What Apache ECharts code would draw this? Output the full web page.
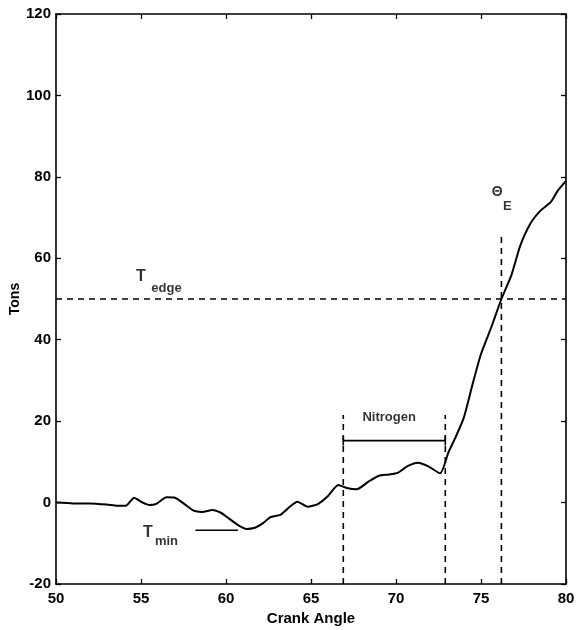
<!DOCTYPE html>
<html>
<head>
<meta charset="utf-8">
<script src="https://cdn.jsdelivr.net/npm/echarts@6/dist/echarts.min.js"></script>
<style>
  html, body { margin: 0; padding: 0; background: #fff; }
  #chart { width: 578px; height: 630px; }
</style>
</head>
<body>
<div id="chart"></div>
<script>
// Measured load on the tool versus crank angle
const crankAngle = [
  50, 51, 52, 53, 53.6, 54.1, 54.6, 55.0, 55.5, 55.9, 56.5, 57.0, 57.5, 58.1,
  58.6, 59.2, 59.7, 60.2, 60.7, 61.2, 61.7, 62.2, 62.6, 63.2, 63.7, 64.2, 64.8,
  65.4, 66.0, 66.6, 67.1, 67.7, 68.4, 69.0, 69.6, 70.1, 70.7, 71.3, 71.9, 72.6,
  73.1, 73.5, 74.0, 74.5, 75.0, 75.6, 76.2, 76.8, 77.3, 77.9, 78.5, 79.1, 79.5, 80.0
];
const tons = [
  0, -0.2, -0.2, -0.5, -0.8, -0.8, 1.2, 0.2, -0.6, -0.3, 1.3, 1.2, -0.2, -2.0,
  -2.3, -1.8, -2.5, -4.0, -5.5, -6.5, -6.2, -5.0, -3.6, -3.0, -1.2, 0.2, -1.0,
  -0.4, 1.6, 4.3, 3.6, 3.3, 5.2, 6.6, 6.9, 7.3, 9.0, 9.8, 8.9, 7.2,
  12.5, 16, 21, 29, 36.5, 43, 50, 56, 63, 68.5, 71.7, 73.8, 76.5, 79
];

// Reference levels and event angles
const tEdge = 50;
const tMin = -6.8;
const tMinSpan = [58.2, 60.7];
const nitrogenStart = 66.9;
const nitrogenEnd = 72.9;
const nitrogenTop = 21.5;
const nitrogenBar = 15.2;
const thetaE = 76.2;
const thetaETop = 66;

// Axis ranges and ticks
const xRange = [50, 80];
const xStep = 5;
const yRange = [-20, 120];
const yStep = 20;

const FONT = '"Liberation Sans Narrow", "Liberation Sans", Arial, sans-serif';
const black = '#000';

function pairs(xs, ys) { return xs.map((x, i) => [x, ys[i]]); }

function refLine(points, dashed, width) {
  return {
    type: 'line',
    data: points,
    symbol: 'none',
    silent: true,
    z: 3,
    lineStyle: { color: black, width: width || 1.6, type: dashed ? [6, 5] : 'solid' }
  };
}

function textMark(x, y, text, size) {
  return {
    type: 'scatter',
    data: [[x, y]],
    symbolSize: 1,
    itemStyle: { color: 'rgba(0,0,0,0)' },
    silent: true,
    z: 5,
    label: {
      show: true,
      position: 'inside',
      formatter: text,
      color: black,
      textBorderWidth: 0,
      fontFamily: FONT,
      fontWeight: 'bold',
      fontSize: size
    }
  };
}

function baseX(pos, showLabels) {
  return {
    type: 'value', position: pos, min: xRange[0], max: xRange[1], interval: xStep,
    axisLine: { show: true, onZero: false, lineStyle: { color: black, width: 1.6 } },
    axisTick: { show: true, inside: true, length: 5, lineStyle: { color: black, width: 1.3 } },
    axisLabel: { show: showLabels, color: black, fontFamily: FONT, fontWeight: 'bold', fontSize: 15, margin: 7 },
    splitLine: { show: false }
  };
}
function baseY(pos, showLabels) {
  return {
    type: 'value', position: pos, min: yRange[0], max: yRange[1], interval: yStep,
    axisLine: { show: true, onZero: false, lineStyle: { color: black, width: 1.6 } },
    axisTick: { show: true, inside: true, length: 5, lineStyle: { color: black, width: 1.3 } },
    axisLabel: { show: showLabels, color: black, fontFamily: FONT, fontWeight: 'bold', fontSize: 15, margin: 5 },
    splitLine: { show: false }
  };
}

const xBottom = Object.assign(baseX('bottom', true), {
  name: 'Crank Angle', nameLocation: 'middle', nameGap: 27, nameMoveOverlap: false,
  nameTextStyle: { color: black, fontFamily: FONT, fontWeight: 'bold', fontSize: 15 }
});
const yLeft = Object.assign(baseY('left', true), {
  name: 'Tons', nameLocation: 'middle', nameGap: 34, nameMoveOverlap: false,
  nameTextStyle: { color: black, fontFamily: FONT, fontWeight: 'bold', fontSize: 14 }
});

const chart = echarts.init(document.getElementById('chart'), null, { renderer: 'canvas' });
chart.setOption({
  animation: false,
  backgroundColor: '#fff',
  grid: { left: 56, top: 14, width: 510, height: 570, outerBoundsMode: 'none', containLabel: false },
  xAxis: [xBottom, baseX('top', false)],
  yAxis: [yLeft, baseY('right', false)],
  series: [
    // Load curve
    {
      type: 'line',
      data: pairs(crankAngle, tons),
      symbol: 'none',
      smooth: 0.2,
      z: 4,
      lineStyle: { color: black, width: 2 }
    },
    // T_edge level
    refLine([[xRange[0], tEdge], [xRange[1], tEdge]], true),
    // T_min marker
    refLine([[tMinSpan[0], tMin], [tMinSpan[1], tMin]], false, 1.5),
    // Nitrogen window boundaries
    refLine([[nitrogenStart, yRange[0]], [nitrogenStart, nitrogenTop]], true),
    refLine([[nitrogenEnd, yRange[0]], [nitrogenEnd, nitrogenTop]], true),
    // Nitrogen bracket
    refLine([[nitrogenStart, nitrogenBar], [nitrogenEnd, nitrogenBar]], false, 1.8),
    refLine([[nitrogenStart, nitrogenBar - 1.2], [nitrogenStart, nitrogenBar + 1.2]], false, 1.6),
    refLine([[nitrogenEnd, nitrogenBar - 1.2], [nitrogenEnd, nitrogenBar + 1.2]], false, 1.6),
    // Theta_E angle
    refLine([[thetaE, yRange[0]], [thetaE, thetaETop]], true),
    // Annotations
    textMark(55.0, 55.4, 'T', 16),
    textMark(56.5, 52.6, 'edge', 13),
    textMark(55.4, -7.3, 'T', 16),
    textMark(56.5, -9.5, 'min', 13),
    textMark(69.6, 20.8, 'Nitrogen', 13),
    textMark(75.95, 76.3, 'Θ', 14),
    textMark(76.55, 72.8, 'E', 13)
  ]
});
</script>
</body>
</html>
